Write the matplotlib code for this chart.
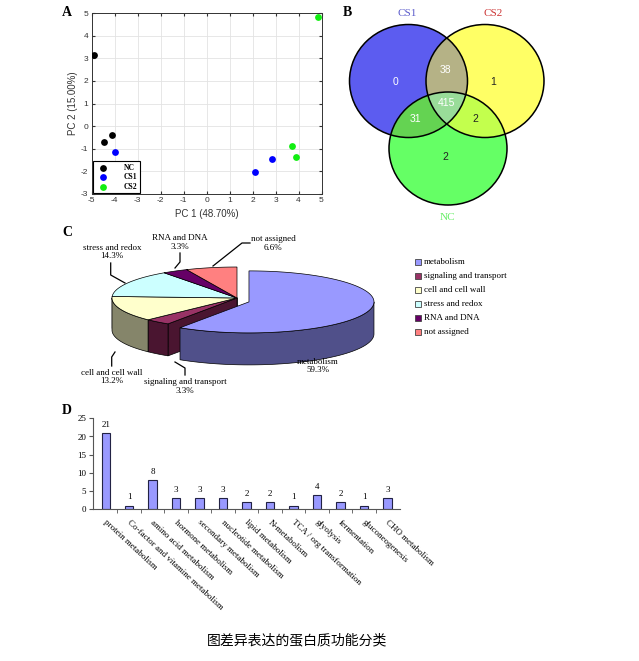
import numpy as np
import matplotlib
matplotlib.use("Agg")
import matplotlib.pyplot as plt
from matplotlib.patches import Polygon, Ellipse, Rectangle
from matplotlib.font_manager import FontProperties

plt.rcParams["axes.unicode_minus"] = False

# ---------------- data ----------------
pca_groups = ["NC", "CS1", "CS2"]
pca_colors = ["#000000", "#0000ff", "#11ee11"]
pc1_nc = [-4.9, -4.45, -4.13]
pc2_nc = [3.15, -0.71, -0.39]
pc1_cs1 = [-3.99, 2.13, 2.83]
pc2_cs1 = [-1.13, -2.04, -1.47]
pc1_cs2 = [3.72, 3.87, 4.86]
pc2_cs2 = [-0.89, -1.36, 4.81]

venn_sets = ["CS1", "CS2", "NC"]
# CS1 only, CS2 only, NC only, CS1&CS2, CS1&NC, CS2&NC, all three
venn_counts = [0, 1, 2, 38, 31, 2, 415]

pie_labels = ["metabolism", "signaling and transport", "cell and cell wall",
              "stress and redox", "RNA and DNA", "not assigned"]
pie_pct = [59.3, 3.3, 13.2, 14.3, 3.3, 6.6]

bar_cats = ["protein metabolism", "Co-factor and vitamine metabolism",
            "amino acid metabolism", "hormone metabolism", "secondary metabolism",
            "nucleotide metabolism", "lipid metabolism", "N-metabolism",
            "TCA / org transformation", "glyolysis", "fermentation",
            "gluconeogenesis", "CHO metabolism"]
bar_vals = [21, 1, 8, 3, 3, 3, 2, 2, 1, 4, 2, 1, 3]

caption = "图差异表达的蛋白质功能分类"

# ---------------- figure ----------------
W, H = 639, 661
fig = plt.figure(figsize=(W / 100, H / 100), dpi=100)
SERIF = "Liberation Serif"
SANS = "Liberation Sans"


def box(x0, y0, x1, y1):
    return fig.add_axes([x0 / W, 1 - y1 / H, (x1 - x0) / W, (y1 - y0) / H])


# overlay axes in pixel coordinates
ov = fig.add_axes([0, 0, 1, 1])
ov.set_xlim(0, W)
ov.set_ylim(H, 0)
ov.axis("off")

# panel letters
for lab, (x, y) in zip("ABCD", [(67, 13), (347, 13), (67, 232), (67, 410)]):
    ov.text(x, y, lab, family=SERIF, weight="bold", fontsize=10, ha="center", va="center")

# ---------------- A: PCA scatter ----------------
axA = box(91.5, 13, 321.5, 194)
xs = [pc1_nc, pc1_cs1, pc1_cs2]
ys = [pc2_nc, pc2_cs1, pc2_cs2]
for g, c, x, y in zip(pca_groups, pca_colors, xs, ys):
    axA.scatter(x, y, s=24, color=c, zorder=3, label=g, linewidths=0)
axA.set_xlim(-5, 5)
axA.set_ylim(-3, 5)
axA.set_xticks(range(-5, 6))
axA.set_yticks(range(-3, 6))
axA.grid(True, color="#e3e3e3", lw=0.6)
axA.set_axisbelow(True)
axA.tick_params(direction="in", labelsize=6, colors="#333333", length=2, pad=2.5,
                top=True, right=True)
for s in axA.spines.values():
    s.set_color("#333333")
    s.set_linewidth(0.7)
for t in axA.get_xticklabels() + axA.get_yticklabels():
    t.set_family(SANS)
axA.set_xlabel("PC 1 (48.70%)", fontsize=7, family=SANS, color="#333333", labelpad=3)
axA.set_ylabel("PC 2 (15.00%)", fontsize=7, family=SANS, color="#333333", labelpad=2)
leg = axA.legend(loc="lower left", prop=FontProperties(family=SERIF, weight="bold", size=5.5),
                 frameon=True, fancybox=False, edgecolor="black", borderaxespad=0.15,
                 handletextpad=1.8, labelspacing=0.2, borderpad=0.3, scatterpoints=1,
                 framealpha=1)
leg.get_frame().set_linewidth(0.8)

# ---------------- B: Venn ----------------
centers = [(408.5, 81.0), (485.0, 81.0), (448.0, 148.5)]
erx, ery = 59.0, 56.5
gx = np.linspace(340, 560, 1100)
gy = np.linspace(15, 215, 1000)
X, Y = np.meshgrid(gx, gy)
ins = [((X - cx) / erx) ** 2 + ((Y - cy) / ery) ** 2 <= 1 for cx, cy in centers]
col = {
    (1, 0, 0): "#5c5cf0", (0, 1, 0): "#ffff66", (0, 0, 1): "#66ff66",
    (1, 1, 0): "#b5b286", (1, 0, 1): "#64d452", (0, 1, 1): "#c4ff4e",
    (1, 1, 1): "#99dc99",
}
img = np.zeros(X.shape + (4,))
for key, c in col.items():
    m = (ins[0] == bool(key[0])) & (ins[1] == bool(key[1])) & (ins[2] == bool(key[2]))
    img[m] = matplotlib.colors.to_rgba(c)
ov.imshow(img, extent=(340, 560, 215, 15), origin="upper", aspect="auto",
          interpolation="antialiased", zorder=1)
for cx, cy in centers:
    ov.add_patch(Ellipse((cx, cy), 2 * erx, 2 * ery, fill=False, ec="black", lw=1.1, zorder=2))
venn_pos = [(395.7, 82.3), (492.7, 82.3), (445.5, 156.7), (445.7, 69.8),
            (415.0, 119.3), (475.0, 119.3), (446.5, 103.3)]
venn_txtcol = ["white", "#222222", "#222222", "white", "white", "#222222", "white"]
for v, (x, y), c in zip(venn_counts, venn_pos, venn_txtcol):
    ov.text(x, y, str(v), fontsize=7.5, family=SANS, color=c, ha="center", va="center", zorder=3)
for s, (x, y), c in zip(venn_sets, [(407, 13), (493, 13), (447, 217)],
                        ["#5a5acb", "#cc3333", "#66ee66"]):
    ov.text(x, y, s, fontsize=8, family=SERIF, color=c, ha="center", va="center")

# ---------------- C: 3D pie ----------------
top_colors = ["#9999ff", "#993366", "#ffffcc", "#ccffff", "#660066", "#ff8080"]
side_colors = ["#50508a", "#4a1530", "#85856a", "#6a8585", "#330033", "#804040"]
pcx, pcy, prx, pry, pdep = 237.0, 298.0, 125.0, 31.0, 32.0
bounds = np.concatenate([[0], np.cumsum(pie_pct)]) * 360.0 / sum(pie_pct)


def rim(th, ox, oy, dz=0.0):
    t = np.radians(th)
    return np.column_stack([ox + prx * np.sin(t), oy - pry * np.cos(t) + dz])


faces, walls, tops = [], [], []
for i in range(len(pie_pct)):
    a0, a1 = bounds[i], bounds[i + 1]
    e = 0.1 if i == 0 else 0.0
    mid = np.radians((a0 + a1) / 2)
    ox = pcx + e * prx * np.sin(mid)
    oy = pcy - e * pry * np.cos(mid) + e * 30
    # radial faces that face the viewer
    for a, normal in ((a0, a0 - 90), (a1, a1 + 90)):
        if np.cos(np.radians(normal)) < -1e-6:
            p = rim([a], ox, oy)[0]
            faces.append((p[1], Polygon([(ox, oy), p, (p[0], p[1] + pdep), (ox, oy + pdep)],
                                        closed=True, fc=side_colors[i], ec="black", lw=0.5,
                                        zorder=1)))
    # outer wall (front half)
    w0, w1 = max(a0, 90), min(a1, 270)
    if w1 > w0:
        th = np.linspace(w0, w1, 80)
        topa = rim(th, ox, oy)
        bota = rim(th[::-1], ox, oy, pdep)
        walls.append(Polygon(np.vstack([topa, bota]), closed=True, fc=side_colors[i],
                             ec="black", lw=0.5, zorder=2))
    th = np.linspace(a0, a1, 120)
    pts = np.vstack([[ox, oy], rim(th, ox, oy)])
    tops.append(Polygon(pts, closed=True, fc=top_colors[i], ec="black", lw=0.5, zorder=3))
faces.sort(key=lambda t: t[0])
for _, p in faces:
    ov.add_patch(p)
for p in walls + tops:
    ov.add_patch(p)

pie_txt_pos = [(318, 366), (185, 386.5), (112, 377), (112, 252), (180, 242.5), (273, 243.5)]
leaders = [None,
           [(185, 375), (185, 368), (175, 362)],
           [(111.7, 366), (111.7, 357), (115, 352)],
           [(110.7, 263), (110.7, 275), (125, 283)],
           [(180, 253), (180, 262), (175, 268)],
           [(250, 243), (242, 243), (213, 266)]]
for lab, pct, (x, y), ld in zip(pie_labels, pie_pct, pie_txt_pos, leaders):
    ov.text(x, y, f"{lab}\n{pct}%", family=SERIF, fontsize=6.5, ha="center", va="center",
            linespacing=1.15, zorder=5)
    if ld is not None:
        lx, ly = zip(*ld)
        ov.plot(lx, ly, color="black", lw=0.9, zorder=5)

for k, (lab, c) in enumerate(zip(pie_labels, top_colors)):
    yk = 261.7 + k * 14.1
    ov.add_patch(Rectangle((415, yk - 3), 6, 6, fc=c, ec="#444444", lw=0.6, zorder=5))
    ov.text(424, yk, lab, family=SERIF, fontsize=6.5, ha="left", va="center", zorder=5)

# ---------------- D: bar chart ----------------
axD = box(93.3, 418.3, 400, 509.3)
xpos = np.arange(len(bar_vals))
axD.bar(xpos, bar_vals, width=0.36, color="#9999ff", edgecolor="#222244", lw=0.8)
axD.set_xlim(-0.53, len(bar_vals) - 0.47)
axD.set_ylim(0, 25)
axD.set_yticks(range(0, 26, 5))
axD.set_xticks([])
axD.set_xticks(np.arange(len(bar_vals) - 1) + 0.5, minor=True)
axD.tick_params(axis="x", which="minor", direction="out", length=3, color="#555555")
axD.tick_params(axis="y", direction="out", length=3, labelsize=6.5, color="#555555", pad=2)
for t in axD.get_yticklabels():
    t.set_family(SERIF)
for s in ["top", "right"]:
    axD.spines[s].set_visible(False)
for s in ["left", "bottom"]:
    axD.spines[s].set_color("#555555")
    axD.spines[s].set_linewidth(0.8)
for xi, v in zip(xpos, bar_vals):
    axD.annotate(str(v), (xi, v), xytext=(0, 3), textcoords="offset points",
                 ha="center", va="bottom", family=SERIF, fontsize=6.5)
for xi, lab in zip(xpos, bar_cats):
    axD.text(xi - 0.05, -3.3, lab, rotation=-43, rotation_mode="anchor", ha="left",
             va="center", family=SERIF, fontsize=6.5)

# ---------------- caption ----------------
fig.text(297 / W, 1 - 640 / H, caption, family=["Noto Sans CJK SC", "DejaVu Sans"],
         fontsize=10, ha="center", va="center")

fig.savefig("out.png", dpi=100)
